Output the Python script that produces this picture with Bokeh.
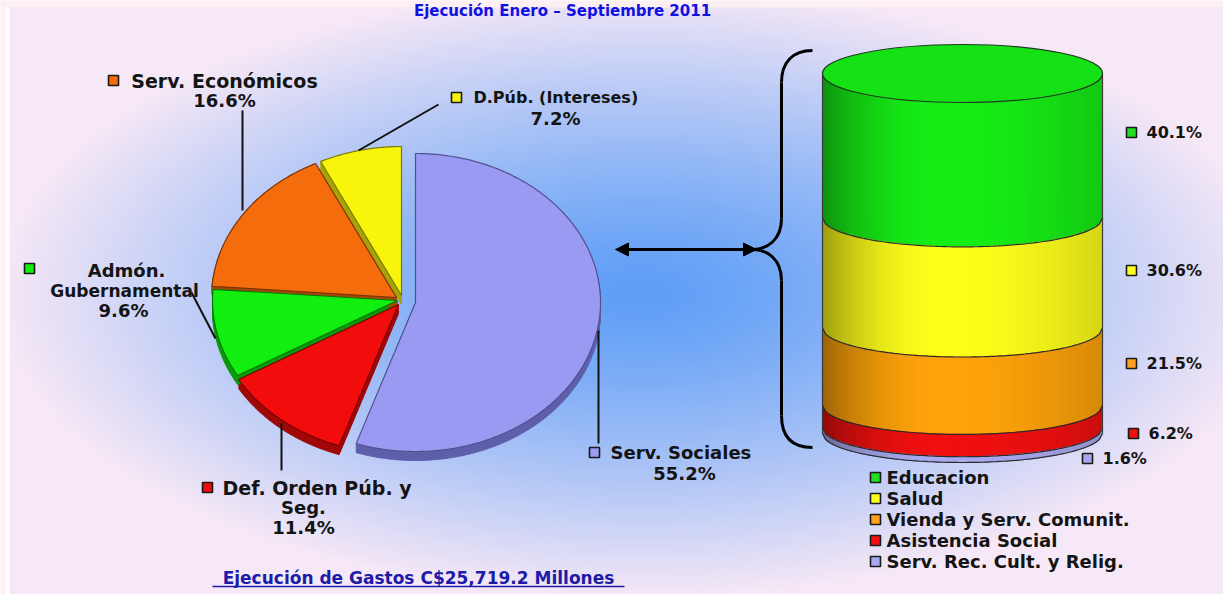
import numpy as np
from bokeh.plotting import figure
from bokeh.models import Range1d, Arrow, NormalHead
from bokeh.core.properties import value
from bokeh.embed import file_html
from bokeh.resources import INLINE

# ---------------- data ----------------
title_text = "Ejecución Enero – Septiembre 2011"
pie_categories = ["Serv. Sociales", "Def. Orden Púb. y Seg.", "Admón. Gubernamental",
                  "Serv. Económicos", "D.Púb. (Intereses)"]
pie_values = [55.2, 11.4, 9.6, 16.6, 7.2]

social_categories = ["Educacion", "Salud", "Vienda y Serv. Comunit.",
                     "Asistencia Social", "Serv. Rec. Cult. y Relig."]
social_values = [40.1, 30.6, 21.5, 6.2, 1.6]

total_text = "Ejecución de Gastos C$25,719.2 Millones"

# ---------------- styles ----------------
pie_colors = ["#9a9af2", "#f20c0c", "#10ef10", "#f46c0c", "#f8f40c"]
pie_side = ["#5e5eaa", "#a00808", "#0a9a0a", "#a84606", "#a8a408"]
pie_edge = ["#50508e", "#7a0000", "#087808", "#7a3404", "#7a7806"]
cyl_colors = ["#16ee16", "#ffff1a", "#ffa30a", "#f21010", "#aaaaf2"]
marker_colors_social = ["#22dd22", "#ffff22", "#ffa020", "#ee1010", "#a8a8f0"]
FONT = value("DejaVu Sans")
TXT = "#141414"

W, H = 1223, 594
def F(y):
    return (H - np.asarray(y, dtype=float)).tolist()

p = figure(width=W, height=H, x_range=Range1d(0, W), y_range=Range1d(0, H),
           output_backend="svg", toolbar_location=None,
           x_axis_location=None, y_axis_location=None, min_border=0)
p.grid.visible = False
p.outline_line_color = None
p.background_fill_color = "#fcf0f5"
p.border_fill_color = "white"

# ---------------- background gradient ----------------
bx0, by0 = 9, 7
gw, gh = 607, 294
gx = np.linspace(bx0, W, gw)
gy_ref = H - np.linspace(0, H - by0, gh)
X, Y = np.meshgrid(gx, gy_ref)
t = np.sqrt(((X - 640) / 640.0) ** 2 + ((Y - 292) / 305.0) ** 2)
f = np.clip(t, 0, 1) ** 1.25
c0 = np.array([0x5e, 0x9e, 0xf6], dtype=float)
c1 = np.array([0xf6, 0xe8, 0xf6], dtype=float)
rgb = c0 + (c1 - c0) * f[..., None]
img = np.empty((gh, gw), dtype=np.uint32)
view = img.view(dtype=np.uint8).reshape((gh, gw, 4))
view[..., 0:3] = np.clip(rgb, 0, 255).astype(np.uint8)
view[..., 3] = 255
p.image_rgba(image=[img], x=bx0, y=0, dw=W - bx0, dh=H - by0)
p.quad(left=[5], right=[bx0], bottom=[0], top=F([by0]), fill_color="white", line_color=None)

# title at the very top
p.text([562], F([10]), text=[title_text], text_font=FONT, text_font_style="bold",
       text_font_size=value("15px"), text_color="#1010e0", text_align="center",
       text_baseline="middle")

# ---------------- pie (elliptical, 3D-ish) ----------------
pcx, pcy, prx, pry, depth = 398, 298, 185, 149, 9
offsets = [(17, 4), (0, 6), (-1, 2), (-2, -1), (3, -3)]
slices = []
start = 90.0
for v, (ox, oy) in zip(pie_values, offsets):
    sweep = v / sum(pie_values) * 360.0
    th = np.radians(np.linspace(start, start - sweep, int(sweep) * 2 + 2))
    xs = np.concatenate([[pcx + ox], pcx + ox + prx * np.cos(th)])
    ys = np.concatenate([[pcy + oy], pcy + oy - pry * np.sin(th)])
    slices.append((xs, ys))
    start -= sweep

dxs, dys, dcol = [], [], []
for i, (xs, ys) in enumerate(slices):
    for d in range(1, depth + 1):
        dxs.append(xs.tolist()); dys.append(F(ys + d)); dcol.append(pie_side[i])
p.patches(dxs, dys, fill_color=dcol, line_color=dcol, line_width=1)
p.patches([s[0].tolist() for s in slices], [F(s[1]) for s in slices],
          fill_color=pie_colors, line_color=pie_edge, line_width=1.2)

# leader lines
lead = [(598, 330, 598, 443), (281, 423, 281, 470), (215, 338, 191, 292),
        (242, 210, 242, 110), (358, 150, 438, 104)]
p.segment([a[0] for a in lead], F([a[1] for a in lead]), [a[2] for a in lead],
          F([a[3] for a in lead]), line_color="#111111", line_width=2)

# pie labels
pie_markers = [(594, 452), (207, 487), (29, 268), (113, 80), (456, 97)]
p.scatter([m[0] for m in pie_markers], F([m[1] for m in pie_markers]), marker="square",
          size=10, fill_color=pie_colors, line_color="#1a1a1a", line_width=1.6)

def pct(v):
    return f"{v:.1f}%"

label_lines = [
    [("Serv. Sociales", 610, 452, "left", 18), (pct(pie_values[0]), 684, 473, "center", 18)],
    [("Def. Orden Púb. y", 222, 487, "left", 19), ("Seg.", 303, 507, "center", 18),
     (pct(pie_values[1]), 303, 527, "center", 18)],
    [("Admón.", 126, 270, "center", 18), ("Gubernamental", 124, 290, "center", 17),
     (pct(pie_values[2]), 123, 310, "center", 18)],
    [("Serv. Económicos", 224, 80, "center", 19), (pct(pie_values[3]), 224, 100, "center", 18)],
    [("D.Púb. (Intereses)", 473, 97, "left", 16), (pct(pie_values[4]), 555, 118, "center", 18)],
]
for lines in label_lines:
    for txt, x, y, al, fs in lines:
        p.text([x], F([y]), text=[txt], text_font=FONT, text_font_style="bold",
               text_font_size=value(f"{fs}px"), text_color=TXT,
               text_align=al, text_baseline="middle")

# ---------------- cylinder ----------------
ccx, crx, cry, ctop, chgt = 962, 140, 29, 73, 360
cum = np.concatenate([[0.0], np.cumsum(social_values)])
bounds = ctop + chgt * cum / cum[-1]
N = 90
xe = np.linspace(ccx - crx, ccx + crx, N + 1)
arc = cry * np.sqrt(np.clip(1 - ((xe - ccx) / crx) ** 2, 0, 1))

def shade(u):
    if u < 0.42:
        return 0.6 + 0.4 * np.sin(np.pi / 2 * (u / 0.42)) ** 0.8
    return 1 - 0.16 * ((u - 0.42) / 0.58) ** 2

def hexcol(c, s):
    r, g, b = int(c[1:3], 16), int(c[3:5], 16), int(c[5:7], 16)
    return "#%02x%02x%02x" % (int(min(255, r * s)), int(min(255, g * s)), int(min(255, b * s)))

sx, sy, sc = [], [], []
for k in range(len(social_values)):
    for i in range(N):
        u = (i + 0.5) / N
        col = hexcol(cyl_colors[k], shade(u))
        sx.append([xe[i], xe[i + 1], xe[i + 1], xe[i]])
        sy.append(F([bounds[k] + arc[i], bounds[k] + arc[i + 1],
                     bounds[k + 1] + arc[i + 1], bounds[k + 1] + arc[i]]))
        sc.append(col)
p.patches(sx, sy, fill_color=sc, line_color=sc, line_width=1)
p.ellipse(x=[ccx], y=F([ctop]), width=2 * crx, height=2 * cry,
          fill_color="#14e214", line_color="#1e3a1e", line_width=1.2)
p.multi_line([xe.tolist() for _ in range(1, len(bounds))],
             [F(bounds[k] + arc) for k in range(1, len(bounds))],
             line_color="#2a2a2a", line_width=1.2)
p.segment([ccx - crx, ccx + crx], F([ctop, ctop]), [ccx - crx, ccx + crx],
          F([bounds[-1], bounds[-1]]), line_color="#3a3a3a", line_width=1.2)

# right percentage labels
rl_y = [132, 270, 363, 433, 458]
rl_mx = [1131, 1131, 1131, 1133, 1087]
p.scatter(rl_mx, F(rl_y), marker="square", size=10, fill_color=marker_colors_social,
          line_color="#1a1a1a", line_width=1.6)
p.text([m + 15 for m in rl_mx], F(rl_y), text=[pct(v) for v in social_values],
       text_font=FONT, text_font_style="bold", text_font_size=value("16px"),
       text_color=TXT, text_align="left", text_baseline="middle")

# legend
lg_y = [477 + 21 * i for i in range(len(social_categories))]
p.scatter([875] * len(lg_y), F(lg_y), marker="square", size=10,
          fill_color=marker_colors_social, line_color="#1a1a1a", line_width=1.6)
p.text([886] * len(lg_y), F(lg_y), text=social_categories, text_font=FONT,
       text_font_style="bold", text_font_size=value("18px"), text_color=TXT,
       text_align="left", text_baseline="middle")

# ---------------- brace + arrow ----------------
bz = [  # x0,y0,x1,y1,cx0,cy0,cx1,cy1
    (812, 50, 781, 82, 792, 50, 781, 62),
    (781, 218, 752, 249, 781, 240, 766, 249),
    (752, 249, 781, 280, 766, 249, 781, 258),
    (781, 415, 812, 447, 781, 437, 792, 447),
]
p.bezier([b[0] for b in bz], F([b[1] for b in bz]), [b[2] for b in bz], F([b[3] for b in bz]),
         [b[4] for b in bz], F([b[5] for b in bz]), [b[6] for b in bz], F([b[7] for b in bz]),
         line_color="black", line_width=3)
p.segment([781, 781], F([82, 280]), [781, 781], F([218, 415]), line_color="black", line_width=3)
p.add_layout(Arrow(start=NormalHead(size=13, fill_color="black", line_color="black"),
                   end=NormalHead(size=13, fill_color="black", line_color="black"),
                   x_start=615, y_start=F([249])[0], x_end=756, y_end=F([249])[0],
                   line_color="black", line_width=3))

# ---------------- bottom total ----------------
p.text([418], F([577]), text=[total_text], text_font=FONT, text_font_style="bold",
       text_font_size=value("17px"), text_color="#1c1ca8", text_align="center",
       text_baseline="middle")
p.segment([212], F([586]), [624], F([586]), line_color="#1c1ca8", line_width=1.5)

open("out.html", "w").write(file_html(p, INLINE))
